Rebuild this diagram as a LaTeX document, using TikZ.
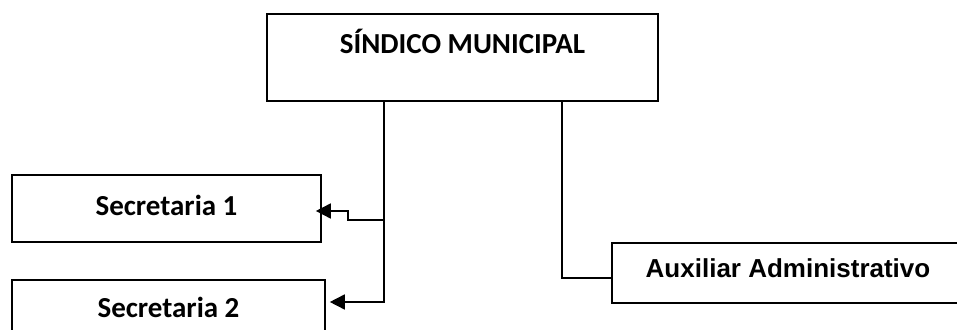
\documentclass[tikz,border=0pt]{standalone}
\usepackage{fontspec}
\setmainfont{Carlito}
\newfontfamily\arialfont{Liberation Sans}
\usetikzlibrary{arrows.meta}

\begin{document}
\begin{tikzpicture}[x=0.5pt,y=-0.5pt,
  box/.style={draw,line width=0.8pt,inner sep=0pt,align=center,font=\bfseries\fontsize{14.5}{17}\selectfont},
  conn/.style={line width=0.8pt},
  tip/.style={conn,-{Triangle[length=7.5pt,width=7.5pt]}}]
\useasboundingbox (0,0) rectangle (957,330);
\node[box,minimum width=195.5pt,text height=20pt,text depth=23.5pt] (sindico) at (462.5,13) [anchor=north] {SÍNDICO MUNICIPAL};
\node[box,minimum width=154.5pt,text height=20.5pt,text depth=13pt] (sec1) at (166.5,174) [anchor=north] {Secretaria 1};
\node[box,minimum width=156.5pt,text height=19pt,text depth=14.5pt] (sec2) at (168.5,279) [anchor=north] {Secretaria 2};
\node[box,font=\arialfont\bfseries\fontsize{13}{15}\selectfont,minimum width=176pt,text height=17.5pt,text depth=12.5pt] (aux) at (788,242) [anchor=north] {Auxiliar Administrativo};
\coordinate (trunk) at (384,220);
\coordinate (step1) at (348,211);
\coordinate (foot) at (384,302);
\coordinate (drop) at (562,278);
\draw[tip,shorten >=2pt] (sindico.south -| foot) -- (foot) -- (foot -| sec2.east);
\draw[tip,shorten >=-3pt] (trunk) -- (trunk -| step1) -- (step1) -- (step1 -| sec1.east);
\draw[conn] (sindico.south -| drop) -- (drop) -- (drop -| aux.west);
\end{tikzpicture}
\end{document}
